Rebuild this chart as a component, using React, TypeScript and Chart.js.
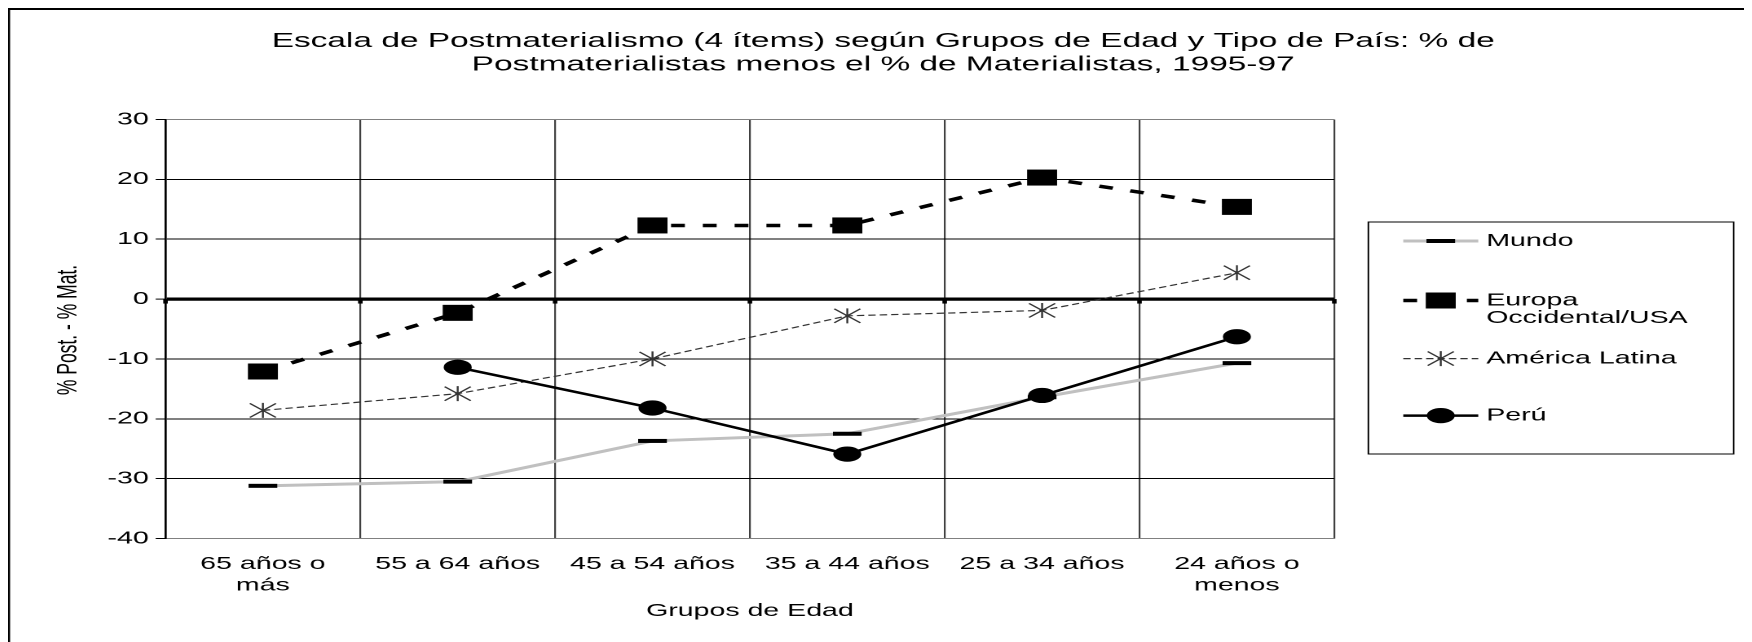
import React, { useEffect, useRef } from "react";
import { Chart, registerables } from "chart.js";

Chart.register(...registerables);

// ---------------- data ----------------
const categories: (string | string[])[] = [
  ["65 años o", "más"],
  "55 a 64 años",
  "45 a 54 años",
  "35 a 44 años",
  "25 a 34 años",
  ["24 años o", "menos"],
];
const mundo = [-31.2, -30.5, -23.7, -22.5, -16.4, -10.7];
const europa = [-12.1, -2.3, 12.3, 12.3, 20.3, 15.4];
const americaLatina = [-18.6, -15.8, -10.0, -2.8, -1.9, 4.4];
const peru = [null, -11.4, -18.2, -25.9, -16.1, -6.3];

const seriesNames: (string | string[])[] = ["Mundo", ["Europa", "Occidental/USA"], "América Latina", "Perú"];
const yMin = -40;
const yMax = 30;
const yStep = 10;
const titleLines = [
  "Escala de Postmaterialismo (4 ítems) según Grupos de Edad y Tipo de País: % de",
  "Postmaterialistas menos el % de Materialistas, 1995-97",
];
const yAxisTitle = "% Post. - % Mat.";
const xAxisTitle = "Grupos de Edad";

// ---------------- layout / style ----------------
const SX = 1.63; // horizontal stretch of the original picture
const W = 1074;
const H = 650;
const FONT = '"Liberation Sans", Arial, Helvetica, sans-serif';
const AXIS_FONT = 17.5;
const TITLE_FONT = 20.5;
const PLOT = { left: 96.6, right: 813.5, top: 111.5, bottom: 530.5 };
const LEGEND = { left: 834.4, top: 214, width: 224, height: 232, lineX0: 855.8, lineX1: 901.8, textX: 906.7 };
const LEGEND_ROWS = [233, 292.5, 350.6, 407.6];
const LEGEND_LINE_GAP = 17.9;

const markerKinds = ["dash", "square", "star", "circle"];

function drawMarker(ctx: CanvasRenderingContext2D, kind: string, x: number, y: number) {
  ctx.save();
  if (kind === "dash") {
    ctx.fillStyle = "#000";
    ctx.fillRect(x - 8.8, y - 2, 17.6, 4);
  } else if (kind === "square") {
    ctx.fillStyle = "#000";
    ctx.fillRect(x - 9.2, y - 8, 18.4, 16);
  } else if (kind === "star") {
    ctx.strokeStyle = "#333";
    ctx.lineWidth = 1.2;
    ctx.setLineDash([]);
    ctx.beginPath();
    ctx.moveTo(x - 8, y - 7);
    ctx.lineTo(x + 8, y + 7);
    ctx.moveTo(x - 8, y + 7);
    ctx.lineTo(x + 8, y - 7);
    ctx.moveTo(x, y - 7.5);
    ctx.lineTo(x, y + 7.5);
    ctx.stroke();
  } else if (kind === "circle") {
    ctx.fillStyle = "#000";
    ctx.beginPath();
    ctx.ellipse(x, y, 8.6, 7.6, 0, 0, Math.PI * 2);
    ctx.fill();
  }
  ctx.restore();
}

const overlayPlugin = {
  id: "overlay",
  afterDatasetsDraw(chart: any) {
    const ctx: CanvasRenderingContext2D = chart.ctx;
    const xs = chart.scales.x;
    const ys = chart.scales.y;
    const y0 = ys.getPixelForValue(0);
    const half = (xs.getPixelForValue(1) - xs.getPixelForValue(0)) / 2;
    ctx.save();
    ctx.fillStyle = "#000";
    for (let i = 0; i <= categories.length; i++) {
      const bx = xs.getPixelForValue(i) - half;
      ctx.fillRect(bx - 1.4, y0, 2.8, 4.5);
    }
    [0, 2, 1, 3].forEach((di) => {
      const meta = chart.getDatasetMeta(di);
      const data = chart.data.datasets[di].data;
      meta.data.forEach((pt: any, i: number) => {
        if (data[i] === null || data[i] === undefined) return;
        drawMarker(ctx, markerKinds[di], pt.x, pt.y);
      });
    });
    ctx.restore();
  },
  afterDraw(chart: any) {
    const ctx: CanvasRenderingContext2D = chart.ctx;
    const area = chart.chartArea;
    ctx.save();
    ctx.fillStyle = "#000";
    // frame
    ctx.fillRect(0, 0, 1.3, H);
    ctx.fillRect(0, 0, W, 2);
    // title
    ctx.font = `${TITLE_FONT}px ${FONT}`;
    ctx.textAlign = "center";
    ctx.textBaseline = "middle";
    ctx.fillText(titleLines[0], 536.8, 33.3);
    ctx.fillText(titleLines[1], 536.8, 56.8);
    // axis titles
    ctx.font = `${AXIS_FONT}px ${FONT}`;
    ctx.fillText(xAxisTitle, (area.left + area.right) / 2, 603);
    ctx.save();
    ctx.translate(37.4, 322);
    ctx.rotate(-Math.PI / 2);
    ctx.fillText(yAxisTitle, 0, 0);
    ctx.restore();
    // legend
    ctx.strokeStyle = "#000";
    ctx.lineWidth = 1;
    ctx.strokeRect(LEGEND.left, LEGEND.top, LEGEND.width, LEGEND.height);
    chart.data.datasets.forEach((ds: any, di: number) => {
      const y = LEGEND_ROWS[di];
      ctx.save();
      ctx.strokeStyle = ds.borderColor;
      ctx.lineWidth = ds.borderWidth;
      ctx.setLineDash(ds.borderDash || []);
      ctx.beginPath();
      ctx.moveTo(LEGEND.lineX0, y);
      ctx.lineTo(LEGEND.lineX1, y);
      ctx.stroke();
      ctx.restore();
      drawMarker(ctx, markerKinds[di], (LEGEND.lineX0 + LEGEND.lineX1) / 2, y);
      const name = seriesNames[di];
      const lines = Array.isArray(name) ? name : [name];
      ctx.textAlign = "left";
      ctx.textBaseline = "middle";
      ctx.fillStyle = "#000";
      lines.forEach((ln, k) => ctx.fillText(ln, LEGEND.textX, y + k * LEGEND_LINE_GAP));
    });
    ctx.restore();
  },
};

export default function App() {
  const ref = useRef<HTMLCanvasElement | null>(null);

  useEffect(() => {
    const canvas = ref.current;
    if (!canvas) return;
    const chart = new Chart(canvas, {
      type: "line",
      data: {
        labels: categories as any,
        datasets: [
          {
            label: "Mundo",
            data: mundo,
            borderColor: "#c0c0c0",
            borderWidth: 3,
            pointRadius: 0,
            tension: 0,
            order: 3,
          },
          {
            label: "Europa Occidental/USA",
            data: europa,
            borderColor: "#000",
            borderWidth: 3.5,
            borderDash: [8.5, 11],
            pointRadius: 0,
            tension: 0,
            order: 2,
          },
          {
            label: "América Latina",
            data: americaLatina,
            borderColor: "#333",
            borderWidth: 1.2,
            borderDash: [4.5, 2.5],
            pointRadius: 0,
            tension: 0,
            order: 1,
          },
          {
            label: "Perú",
            data: peru,
            borderColor: "#000",
            borderWidth: 2.5,
            pointRadius: 0,
            tension: 0,
            order: 0,
          },
        ] as any,
      },
      options: {
        responsive: false,
        animation: false,
        devicePixelRatio: 2,
        layout: {
          padding: { left: 0, top: PLOT.top, right: W - PLOT.right, bottom: 0 },
        },
        plugins: {
          legend: { display: false },
          title: { display: false },
          tooltip: { enabled: false },
        },
        scales: {
          x: {
            type: "category",
            offset: true,
            border: { display: true, color: "#808080", width: 1 },
            grid: {
              offset: true,
              drawTicks: false,
              lineWidth: 1.1,
              color: (c: any) =>
                c.index === 0 ? "#000" : c.index === categories.length ? "#808080" : "#404040",
            },
            ticks: {
              autoSkip: false,
              maxRotation: 0,
              minRotation: 0,
              padding: 14.6,
              color: "#000",
              font: { family: FONT, size: AXIS_FONT, lineHeight: 1.25 },
            },
            afterFit: (s: any) => {
              s.height = H - PLOT.bottom;
            },
          },
          y: {
            type: "linear",
            min: yMin,
            max: yMax,
            border: { display: true, color: "#000", width: 1.3 },
            grid: {
              drawTicks: true,
              tickLength: 6,
              tickColor: "#000",
              tickWidth: 1,
              color: (c: any) =>
                c.tick && (c.tick.value === yMax || c.tick.value === yMin) ? "#808080" : "#000",
              lineWidth: (c: any) => (c.tick && c.tick.value === 0 ? 3.2 : 1),
            },
            ticks: {
              stepSize: yStep,
              padding: 4.3,
              color: "#000",
              font: { family: FONT, size: AXIS_FONT },
            },
            afterFit: (s: any) => {
              s.width = PLOT.left;
            },
          },
        },
      } as any,
      plugins: [overlayPlugin],
    });
    return () => chart.destroy();
  }, []);

  return (
    <div style={{ width: 1744, height: 634, overflow: "hidden", position: "relative" }}>
      <canvas
        ref={ref}
        width={W}
        height={H}
        style={{ width: `${W * SX}px`, height: `${H}px`, display: "block" }}
      />
    </div>
  );
}
